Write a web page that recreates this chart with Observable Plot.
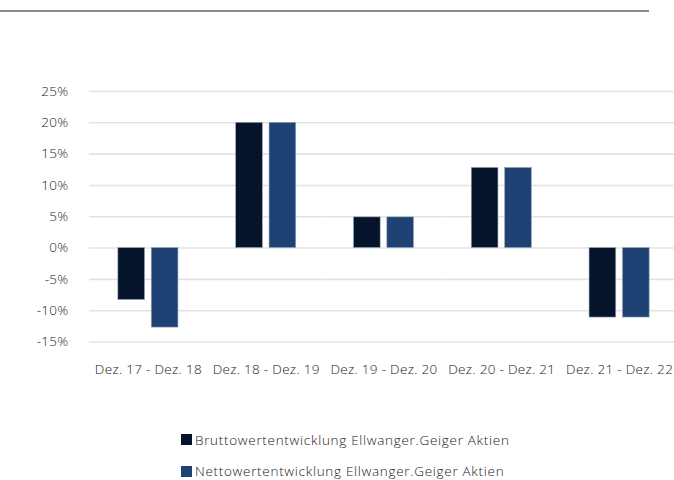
<!DOCTYPE html>
<html>
<head>
<meta charset="utf-8">
<script src="https://cdn.jsdelivr.net/npm/d3@7"></script>
<script src="https://cdn.jsdelivr.net/npm/@observablehq/plot@0.6"></script>
<style>
  html, body { margin: 0; padding: 0; background: #fff; overflow: hidden; }
  #wrap { position: relative; width: 674px; height: 480px; overflow: hidden; font-family: "Open Sans", sans-serif; }
  #topline { position: absolute; left: 0; top: 10px; width: 649px; height: 2px; background: #8a8a8a; }
  #chart { position: absolute; left: 0; top: 0; width: 678px; }
  #chart svg { max-width: none !important; }
  .leg { position: absolute; left: 181px; display: flex; align-items: center; font-size: 13.5px; font-weight: 300; letter-spacing: 0.7px; color: #222; white-space: nowrap; }
  .sw { width: 11px; height: 11px; margin-right: 3px; }
</style>
</head>
<body>
<div id="wrap">
  <div id="topline"></div>
  <div id="chart"></div>
</div>
<script>
const categories = ["Dez. 17 - Dez. 18", "Dez. 18 - Dez. 19", "Dez. 19 - Dez. 20", "Dez. 20 - Dez. 21", "Dez. 21 - Dez. 22"];
const seriesNames = ["Bruttowertentwicklung Ellwanger.Geiger Aktien", "Nettowertentwicklung Ellwanger.Geiger Aktien"];
const brutto = [-8.3, 20.0, 4.9, 12.8, -11.1];
const netto = [-12.7, 20.0, 4.9, 12.8, -11.1];
const yTicks = [-15, -10, -5, 0, 5, 10, 15, 20, 25];
const seriesColors = ["#05142a", "#1f4274"];

const data = [];
categories.forEach((c, i) => {
  data.push({category: c, series: seriesNames[0], value: brutto[i]});
  data.push({category: c, series: seriesNames[1], value: netto[i]});
});

const chart = Plot.plot({
  width: 678,
  height: 400,
  marginLeft: 89,
  marginRight: 0,
  marginTop: 91,
  marginBottom: 58.5,
  style: {fontFamily: "Open Sans, sans-serif", fontSize: "13.5px", fontWeight: 300, letterSpacing: "0.3px", color: "#222", background: "transparent", maxWidth: "none"},
  fx: {domain: categories, padding: 0, round: false, axis: "bottom", label: null, tickSize: 0, tickPadding: 22},
  x: {domain: seriesNames, paddingInner: 0.2, paddingOuter: 0.864, round: false, axis: null},
  y: {domain: [-15, 25], ticks: yTicks, tickFormat: d => d + "%", tickSize: 0, tickPadding: 21, label: null},
  color: {domain: seriesNames, range: seriesColors},
  marks: [
    Plot.ruleY(yTicks, {stroke: "#e3e3e3", strokeWidth: 1.6}),
    Plot.barY(data, {fx: "category", x: "series", y: "value", fill: "series", stroke: "#9aa8bc", strokeWidth: 0.6})
  ]
});
document.getElementById("chart").appendChild(chart);

const wrap = document.getElementById("wrap");
const legTops = [439.5, 471];
seriesNames.forEach((s, i) => {
  const row = document.createElement("div");
  row.className = "leg";
  row.style.top = (legTops[i] - 10) + "px";
  row.style.height = "20px";
  const sw = document.createElement("div");
  sw.className = "sw";
  sw.style.background = seriesColors[i];
  const t = document.createElement("span");
  t.textContent = s;
  row.appendChild(sw);
  row.appendChild(t);
  wrap.appendChild(row);
});
</script>
</body>
</html>
